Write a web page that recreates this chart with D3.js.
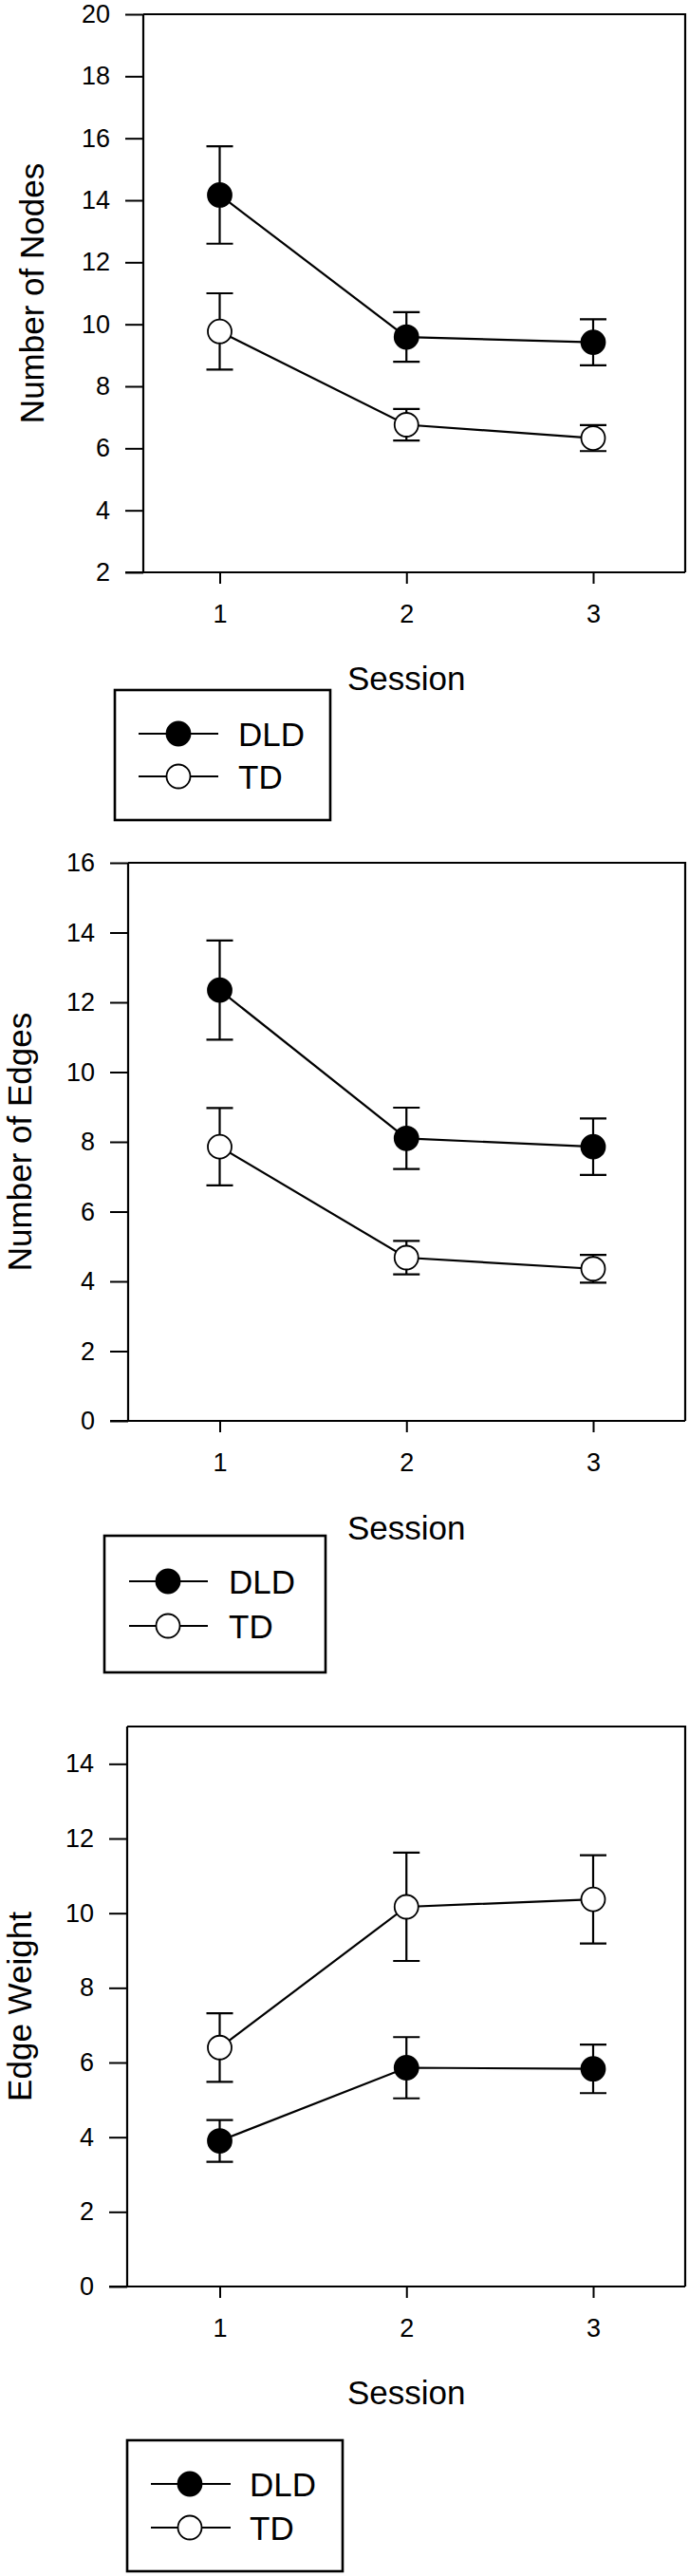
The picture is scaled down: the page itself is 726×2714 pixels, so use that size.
<!DOCTYPE html>
<html>
<head>
<meta charset="utf-8">
<script src="https://cdn.jsdelivr.net/npm/d3@7"></script>
<style>
  html, body { margin: 0; padding: 0; background: #fff; }
  svg { display: block; }
  text { font-family: "Liberation Sans", Arial, sans-serif; fill: #000; }
</style>
</head>
<body>
<svg id="chart" width="726" height="2714"></svg>
<script>
// ---- Data ----
const sessions = [1, 2, 3];
const seriesNames = ["DLD", "TD"];

const nodesDLD = [14.17, 9.59, 9.42];
const nodesDLDErr = [1.57, 0.80, 0.74];
const nodesTD = [9.77, 6.76, 6.33];
const nodesTDErr = [1.23, 0.51, 0.42];

const edgesDLD = [12.35, 8.10, 7.86];
const edgesDLDErr = [1.42, 0.88, 0.81];
const edgesTD = [7.86, 4.68, 4.36];
const edgesTDErr = [1.11, 0.48, 0.40];

const weightDLD = [3.90, 5.86, 5.83];
const weightDLDErr = [0.56, 0.82, 0.65];
const weightTD = [6.40, 10.17, 10.37];
const weightTDErr = [0.92, 1.45, 1.18];

const nodesTicks = [2, 4, 6, 8, 10, 12, 14, 16, 18, 20];
const edgesTicks = [0, 2, 4, 6, 8, 10, 12, 14, 16];
const weightTicks = [0, 2, 4, 6, 8, 10, 12, 14];

const yTitles = ["Number of Nodes", "Number of Edges", "Edge Weight"];
const xTitle = "Session";

// ---- Layout ----
const panels = [
  { dld: nodesDLD, dldErr: nodesDLDErr, td: nodesTD, tdErr: nodesTDErr, ticks: nodesTicks, ydom: [2, 20],
    title: yTitles[0], top: 15, bottom: 603, left: 151, right: 722, titleX: 46, sessionY: 727,
    leg: { x: 121, y: 727, w: 227, h: 137, r1: 46, r2: 91, l0: 25, l1: 109, m: 67, t: 130 } },
  { dld: edgesDLD, dldErr: edgesDLDErr, td: edgesTD, tdErr: edgesTDErr, ticks: edgesTicks, ydom: [0, 16],
    title: yTitles[1], top: 909, bottom: 1497, left: 135, right: 722, titleX: 33, sessionY: 1622,
    leg: { x: 110, y: 1618, w: 233, h: 144, r1: 48, r2: 95, l0: 26, l1: 109, m: 67, t: 131 } },
  { dld: weightDLD, dldErr: weightDLDErr, td: weightTD, tdErr: weightTDErr, ticks: weightTicks, ydom: [0, 15],
    title: yTitles[2], top: 1819, bottom: 2409, left: 134, right: 722, titleX: 33, sessionY: 2533,
    leg: { x: 134, y: 2571, w: 227, h: 138, r1: 46, r2: 92, l0: 25, l1: 109, m: 66, t: 129 } }
];

const svg = d3.select("#chart");
const x = d3.scaleLinear().domain([1, 3]).range([231.5, 625]);
const R = 12.5;
const capHalf = 14;

panels.forEach(p => {
  const g = svg.append("g");
  const y = d3.scaleLinear().domain(p.ydom).range([p.bottom, p.top]);

  // frame: top and right borders
  g.append("path")
    .attr("d", `M${p.left},${p.top}H${p.right}V${p.bottom}`)
    .attr("fill", "none").attr("stroke", "#000").attr("stroke-width", 2.2);

  // y axis
  const yAxis = d3.axisLeft(y).tickValues(p.ticks).tickSize(19).tickPadding(16).tickFormat(d3.format("d"));
  const ya = g.append("g").attr("transform", `translate(${p.left},0)`).call(yAxis);
  ya.select(".domain").attr("d", `M0,${p.top}V${p.bottom}`).attr("stroke-width", 2.2);
  ya.selectAll(".tick line").attr("stroke-width", 2);
  ya.selectAll(".tick text").attr("font-size", 27).attr("font-family", "Liberation Sans, Arial, sans-serif").attr("fill", "#000");

  // x axis
  const xAxis = d3.axisBottom(x).tickValues(sessions).tickSize(12).tickPadding(22).tickFormat(d3.format("d"));
  const xa = g.append("g").attr("transform", `translate(0,${p.bottom})`).call(xAxis);
  xa.select(".domain").attr("d", `M${p.left - 19},0H${p.right}`).attr("stroke-width", 2.2);
  xa.selectAll(".tick line").attr("stroke-width", 2);
  xa.selectAll(".tick text").attr("font-size", 27).attr("font-family", "Liberation Sans, Arial, sans-serif").attr("fill", "#000");

  // titles
  g.append("text")
    .attr("transform", `translate(${p.titleX},${(p.top + p.bottom) / 2}) rotate(-90)`)
    .attr("text-anchor", "middle").attr("font-size", 35).text(p.title);
  g.append("text")
    .attr("x", x(2)).attr("y", p.sessionY)
    .attr("text-anchor", "middle").attr("font-size", 35).text(xTitle);

  const series = [
    { vals: p.dld, err: p.dldErr, fill: "#000" },
    { vals: p.td, err: p.tdErr, fill: "#fff" }
  ];
  const line = d3.line().x((d, i) => x(sessions[i])).y(d => y(d));

  series.forEach(s => {
    g.append("path").datum(s.vals).attr("d", line)
      .attr("fill", "none").attr("stroke", "#000").attr("stroke-width", 2.2);
  });
  series.forEach(s => {
    const eb = g.append("g");
    s.vals.forEach((v, i) => {
      const cx = x(sessions[i]);
      const hi = y(v + s.err[i]), lo = y(v - s.err[i]);
      eb.append("path")
        .attr("d", `M${cx},${hi}V${lo}M${cx - capHalf},${hi}H${cx + capHalf}M${cx - capHalf},${lo}H${cx + capHalf}`)
        .attr("fill", "none").attr("stroke", "#000").attr("stroke-width", 2.2);
    });
  });
  series.forEach(s => {
    g.selectAll(null).data(s.vals).enter().append("circle")
      .attr("cx", (d, i) => x(sessions[i])).attr("cy", d => y(d)).attr("r", R)
      .attr("fill", s.fill).attr("stroke", "#000").attr("stroke-width", 1.8);
  });

  // legend
  const L = p.leg;
  const lg = g.append("g").attr("transform", `translate(${L.x},${L.y})`);
  lg.append("rect").attr("width", L.w).attr("height", L.h)
    .attr("fill", "none").attr("stroke", "#000").attr("stroke-width", 2.6);
  [[L.r1, "#000", seriesNames[0]], [L.r2, "#fff", seriesNames[1]]].forEach(([ry, fill, name]) => {
    lg.append("line").attr("x1", L.l0).attr("x2", L.l1).attr("y1", ry).attr("y2", ry)
      .attr("stroke", "#000").attr("stroke-width", 2.2);
    lg.append("circle").attr("cx", L.m).attr("cy", ry).attr("r", R)
      .attr("fill", fill).attr("stroke", "#000").attr("stroke-width", 1.8);
    lg.append("text").attr("x", L.t).attr("y", ry + 12.5).attr("font-size", 35).text(name);
  });
});
</script>
</body>
</html>
